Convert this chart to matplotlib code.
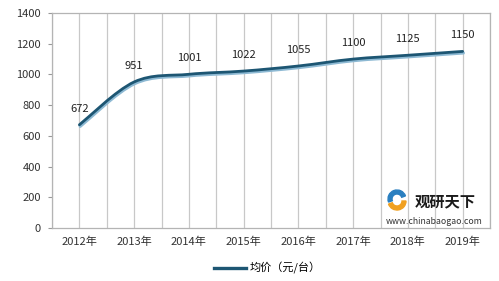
import matplotlib
matplotlib.use('Agg')
import matplotlib.pyplot as plt
from matplotlib.path import Path
from matplotlib.patches import PathPatch, Wedge
import matplotlib.transforms as mtransforms

plt.rcParams['font.family'] = ['Noto Sans CJK SC', 'DejaVu Sans']

years = ['2012年', '2013年', '2014年', '2015年', '2016年', '2017年', '2018年', '2019年']
price = [672, 951, 1001, 1022, 1055, 1100, 1125, 1150]
series_name = '均价（元/台）'

fig = plt.figure(figsize=(4.99, 2.81), dpi=100)
ax = fig.add_axes([0.1042, 0.1886, 0.8778, 0.7651])

xs = list(range(len(price)))

# smooth curve (Catmull-Rom -> cubic bezier), like Excel's smoothed line
verts = [(xs[0], price[0])]
codes = [Path.MOVETO]
n = len(xs)
for i in range(n - 1):
    p0 = (xs[max(i - 1, 0)], price[max(i - 1, 0)])
    p1 = (xs[i], price[i])
    p2 = (xs[i + 1], price[i + 1])
    p3 = (xs[min(i + 2, n - 1)], price[min(i + 2, n - 1)])
    c1 = (p1[0] + (p2[0] - p0[0]) / 6, p1[1] + (p2[1] - p0[1]) / 6)
    c2 = (p2[0] - (p3[0] - p1[0]) / 6, p2[1] - (p3[1] - p1[1]) / 6)
    verts += [c1, c2, p2]
    codes += [Path.CURVE4] * 3
path = Path(verts, codes)

shadow = mtransforms.offset_copy(ax.transData, fig=fig, x=0.8, y=-1.6, units='dots')
ax.add_patch(PathPatch(path, facecolor='none', edgecolor='#8db9d3', lw=2.2,
                       transform=shadow, zorder=3, capstyle='round'))
ax.add_patch(PathPatch(path, facecolor='none', edgecolor='#1d5673', lw=2.0,
                       zorder=4, capstyle='round'))

for x, v in zip(xs, price):
    ax.annotate(str(v), (x, v), xytext=(0, 8), textcoords='offset points',
                ha='center', va='bottom', fontsize=8, color='#222222')

ax.set_xlim(-0.5, len(years) - 0.5)
ax.set_ylim(0, 1400)
ax.set_yticks(range(0, 1401, 200))
ax.set_xticks(xs)
ax.set_xticklabels(years)
ax.set_xticks([x + 0.5 for x in range(-1, len(years))], minor=True)
ax.grid(True, axis='x', which='both', color='#c8c8c8', lw=0.9)
ax.set_axisbelow(True)
for s in ax.spines.values():
    s.set_color('#b4b4b4')
    s.set_linewidth(0.9)
ax.tick_params(axis='y', length=3, color='#999999', labelsize=8, labelcolor='#333333', pad=5)
ax.tick_params(axis='x', which='both', length=0, labelsize=8, labelcolor='#333333', pad=6)

# legend
fig.legend(handles=[plt.Line2D([], [], color='#1d5673', lw=2.4)], labels=[series_name],
           loc='center', bbox_to_anchor=(0.535, 0.045), frameon=False, fontsize=8,
           handlelength=2.9, handletextpad=0.3)

# watermark
fig.text(0.893, 0.283, '观研天下', fontsize=11, fontweight='bold', color='#1a1a1a',
         ha='center', va='center')
fig.text(0.87, 0.21, 'www.chinabaogao.com', fontsize=6.3, color='#333333',
         ha='center', va='center')
logo = mtransforms.blended_transform_factory(fig.transFigure, fig.transFigure)
fig.patches.append(Wedge((397, 281 - 201), 9, 200, 360, width=4, color='#f0a020',
                         transform=None, figure=fig))
fig.patches.append(Wedge((397, 281 - 199), 9, 20, 200, width=4, color='#2a7fc0',
                         transform=None, figure=fig))

fig.savefig('out.png', dpi=100)
